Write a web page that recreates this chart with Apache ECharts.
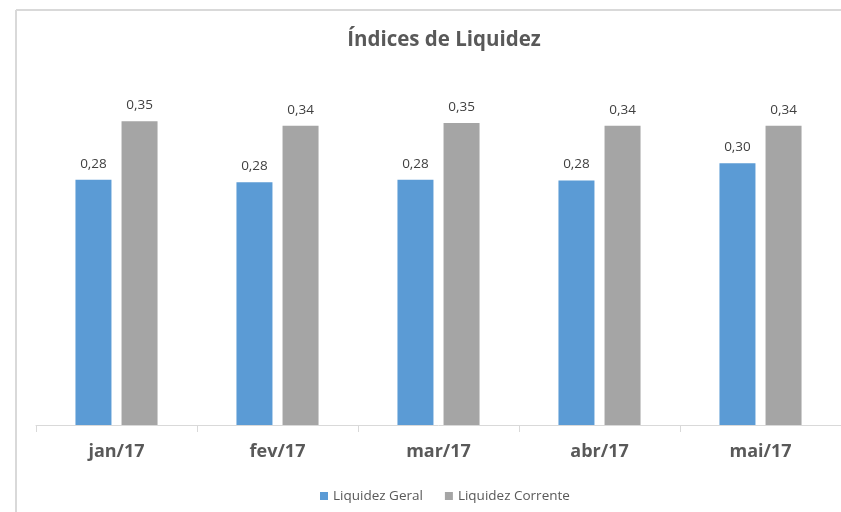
<!DOCTYPE html>
<html>
<head>
<meta charset="utf-8">
<script src="https://cdn.jsdelivr.net/npm/echarts@6/dist/echarts.min.js"></script>
<style>
html,body{margin:0;padding:0;background:#fff;overflow:hidden;}
#c{width:841px;height:512px;}
</style>
</head>
<body>
<div id="c"></div>
<script>
var categories = ['jan/17', 'fev/17', 'mar/17', 'abr/17', 'mai/17'];
var liquidezGeral = [0.282, 0.279, 0.282, 0.281, 0.301];
var liquidezCorrente = [0.349, 0.344, 0.347, 0.344, 0.344];
var seriesNames = ['Liquidez Geral', 'Liquidez Corrente'];

var chart = echarts.init(document.getElementById('c'), null, {renderer: 'canvas'});
function fmt(p) { return p.value.toFixed(2).replace('.', ','); }
var labelStyle = {
  show: true, position: 'top', distance: 9, formatter: fmt,
  color: '#404040', fontSize: 13.5, fontFamily: 'Open Sans'
};
chart.setOption({
  animation: false,
  backgroundColor: '#ffffff',
  graphic: [
    {type: 'line', silent: true, z: -1,
     shape: {x1: 16, y1: 10, x2: 841, y2: 10},
     style: {stroke: '#D9D9D9', lineWidth: 2}},
    {type: 'line', silent: true, z: -1,
     shape: {x1: 16, y1: 10, x2: 16, y2: 512},
     style: {stroke: '#D9D9D9', lineWidth: 2}}
  ],
  title: {
    text: 'Índices de Liquidez',
    left: 439, top: 25, textAlign: 'center',
    textStyle: {fontFamily: 'Open Sans', fontWeight: 'bold', fontSize: 20.5, color: '#595959'}
  },
  legend: {
    data: seriesNames,
    left: 315, top: 484,
    itemWidth: 8, itemHeight: 8, itemGap: 22,
    icon: 'rect',
    textStyle: {fontFamily: 'Open Sans', fontSize: 13.5, color: '#595959'}
  },
  grid: {left: 36, top: 77, width: 808, height: 348, containLabel: false},
  xAxis: {
    type: 'category', data: categories,
    axisLine: {lineStyle: {color: '#D9D9D9', width: 1}},
    axisTick: {show: true, length: 7, lineStyle: {color: '#D9D9D9'}},
    axisLabel: {margin: 18, fontFamily: 'Open Sans', fontWeight: 'bold', fontSize: 18, color: '#595959'}
  },
  yAxis: {
    type: 'value', min: 0, max: 0.4, show: false,
    splitLine: {show: false}
  },
  series: [
    {name: seriesNames[0], type: 'bar', data: liquidezGeral, barWidth: 36, barGap: '28%',
     itemStyle: {color: '#5B9BD5'}, label: labelStyle},
    {name: seriesNames[1], type: 'bar', data: liquidezCorrente, barWidth: 36,
     itemStyle: {color: '#A5A5A5'}, label: labelStyle}
  ]
});
</script>
</body>
</html>
